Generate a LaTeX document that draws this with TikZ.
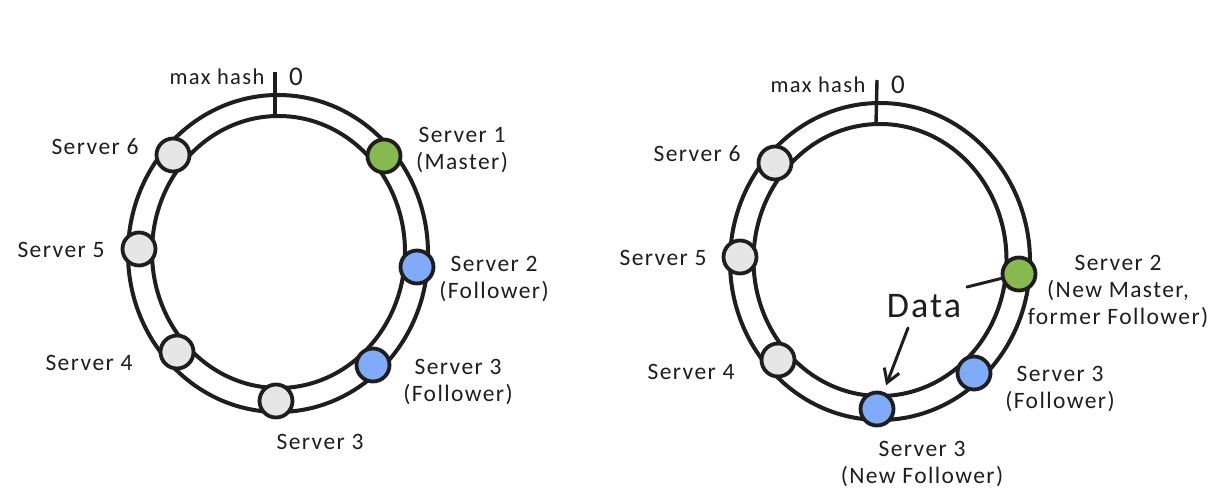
\documentclass[tikz,border=0pt]{standalone}
\usepackage{fontspec}
\setmainfont[LetterSpace=6]{Carlito}
\usetikzlibrary{arrows.meta}
\definecolor{ink}{HTML}{1E1E1E}
\definecolor{gr}{HTML}{E6E6E6}
\definecolor{grn}{HTML}{86BA4F}
\definecolor{blu}{HTML}{7FABF9}
\tikzset{
 ringline/.style={draw=ink,line width=4pt},
 srv/.style={circle,draw=ink,line width=3.8pt,minimum size=33pt,inner sep=0pt},
 graysrv/.style={srv,fill=gr},
 greensrv/.style={srv,fill=grn},
 bluesrv/.style={srv,fill=blu},
 lab/.style={align=center,text=ink,font=\fontsize{23.5}{27}\selectfont,inner sep=0pt},
 smalllab/.style={text=ink,font=\fontsize{22.5}{23}\selectfont,inner sep=0pt},
 zerolab/.style={text=ink,font=\fontsize{27}{27}\selectfont,inner sep=0pt},
 tickline/.style={draw=ink,line width=3.4pt},
 dataline/.style={draw=ink,line width=3pt,line cap=round}
}
\begin{document}
\begin{tikzpicture}[x=1pt,y=-1pt]
\useasboundingbox[fill=white] (0,0) rectangle (1230,503);
% left ring
\draw[ringline] (278,253.5) ellipse [x radius=150,y radius=158.5];
\draw[ringline] (278.5,252) ellipse [x radius=126.5,y radius=136];
\coordinate (ta) at (275,72);
\coordinate (tb) at (275,115);
\draw[tickline] (ta) -- (tb);
\node[greensrv] (l1) at (384,156) {};
\node[bluesrv] (l2) at (417,267) {};
\node[bluesrv] (l3) at (373,365) {};
\node[graysrv] (l3b) at (276,401) {};
\node[graysrv] (l4) at (177,352) {};
\node[graysrv] (l5) at (139,249) {};
\node[graysrv] (l6) at (173,155) {};
\node[smalllab] (lmax) at (217,77) {max hash};
\node[zerolab] (lzero) at (296,77) {0};
\node[lab] (tl1) at (462,150) {Server 1\\(Master)};
\node[lab] (tl2) at (494,279) {Server 2\\(Follower)};
\node[lab] (tl3) at (458,382) {Server 3\\(Follower)};
\node[lab] (tl3b) at (320,442) {Server 3};
\node[lab] (tl4) at (89,363) {Server 4};
\node[lab] (tl5) at (61,250) {Server 5};
\node[lab] (tl6) at (95,147) {Server 6};
% right ring
\draw[ringline] (880,261.5) ellipse [x radius=150,y radius=158.5];
\draw[ringline] (880,260) ellipse [x radius=126.5,y radius=136];
\coordinate (tc) at (877,80);
\coordinate (td) at (876,123);
\draw[tickline] (tc) -- (td);
\node[greensrv] (r2) at (1019,274) {};
\node[bluesrv] (r3) at (974,373) {};
\node[bluesrv] (r3n) at (877,409) {};
\node[graysrv] (r4) at (778,360) {};
\node[graysrv] (r5) at (740,257) {};
\node[graysrv] (r6) at (775,163) {};
\node[smalllab] (rmax) at (818,85) {max hash};
\node[zerolab] (rzero) at (898,85) {0};
\node[lab] (tr2) at (1118,292) {Server 2\\(New Master,\\former Follower)};
\node[lab] (tr3) at (1060,389) {Server 3\\(Follower)};
\node[lab] (tr3n) at (922,464) {Server 3\\(New Follower)};
\node[lab] (tr4) at (691,372) {Server 4};
\node[lab] (tr5) at (663,258) {Server 5};
\node[lab] (tr6) at (697,154) {Server 6};
\node[text=ink,inner sep=0pt,font=\fontsize{36}{40}\selectfont] (data) at (924,306) {Data};
\coordinate (da) at (967,287);
\coordinate (db) at (908,328);
\draw[dataline] (da) -- (r2);
\draw[dataline,-{Straight Barb[length=13pt,width=16pt,line width=3pt]},shorten >=7pt] (db) -- (r3n);
\end{tikzpicture}
\end{document}
